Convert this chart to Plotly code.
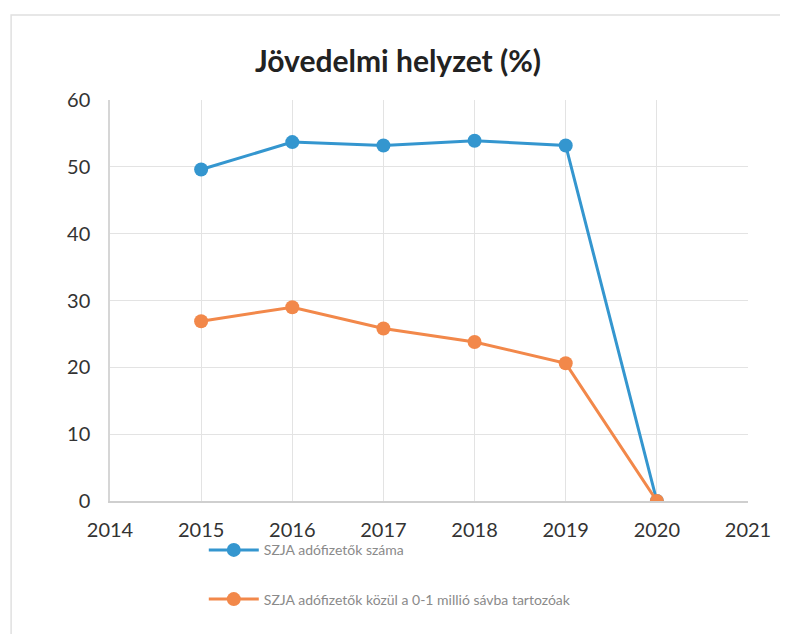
import plotly.graph_objects as go

years = [2015, 2016, 2017, 2018, 2019, 2020]
szja_total = [49.6, 53.7, 53.2, 53.9, 53.2, 0]
szja_0_1m = [26.9, 29.0, 25.8, 23.8, 20.6, 0]
series_names = ["SZJA adófizetők száma", "SZJA adófizetők közül a 0-1 millió sávba tartozóak"]
x_ticks = [2014, 2015, 2016, 2017, 2018, 2019, 2020, 2021]
y_ticks = [0, 10, 20, 30, 40, 50, 60]

blue = "#3496cf"
orange = "#f2884a"

fig = go.Figure()
fig.add_trace(go.Scatter(x=years, y=szja_total, name=series_names[0], mode="lines+markers",
                         line=dict(color=blue, width=3), marker=dict(color=blue, size=14),
                         legendgroup="a"))
fig.add_trace(go.Scatter(x=years, y=szja_0_1m, name=series_names[1], mode="lines+markers",
                         line=dict(color=orange, width=3), marker=dict(color=orange, size=14),
                         legendgroup="b"))

fig.update_layout(
    width=780, height=626,
    margin=dict(l=102, r=40, t=92, b=133),
    paper_bgcolor="white", plot_bgcolor="white",
    font=dict(family="Lato, Open Sans, sans-serif", color="#404040"),
    title=dict(text="<b>Jövedelmi helyzet (%)</b>", x=0.5, xanchor="center", y=0.914, yanchor="middle",
               font=dict(size=30, color="#222222", family="Lato, sans-serif")),
    xaxis=dict(range=[2014, 2021], tickvals=x_ticks, showgrid=True, gridcolor="#e3e3e3",
               showline=True, linecolor="#cfcfcf", linewidth=1.5, zeroline=False,
               tickfont=dict(size=20, color="#333333"), ticks="outside", ticklen=10,
               tickcolor="rgba(0,0,0,0)"),
    yaxis=dict(range=[0, 60], tickvals=y_ticks, showgrid=True, gridcolor="#e3e3e3",
               showline=True, linecolor="#d6d6d6", linewidth=1.5, zeroline=False,
               ticks="outside", ticklen=14, tickcolor="rgba(0,0,0,0)",
               tickfont=dict(size=20, color="#333333")),
    legend=dict(x=0.147, xanchor="left", y=-0.083, yanchor="top", orientation="v",
                traceorder="grouped", tracegroupgap=28, itemwidth=50,
                font=dict(size=14, color="#8a8a8a"), bgcolor="rgba(0,0,0,0)"),
    showlegend=True,
)

fig.add_shape(type="rect", xref="paper", yref="paper",
              x0=-0.155, x1=1.3, y0=-0.4, y1=1.212,
              line=dict(color="#e0e0e0", width=1.5), fillcolor="rgba(0,0,0,0)", layer="below")

fig.write_html("out.html")
